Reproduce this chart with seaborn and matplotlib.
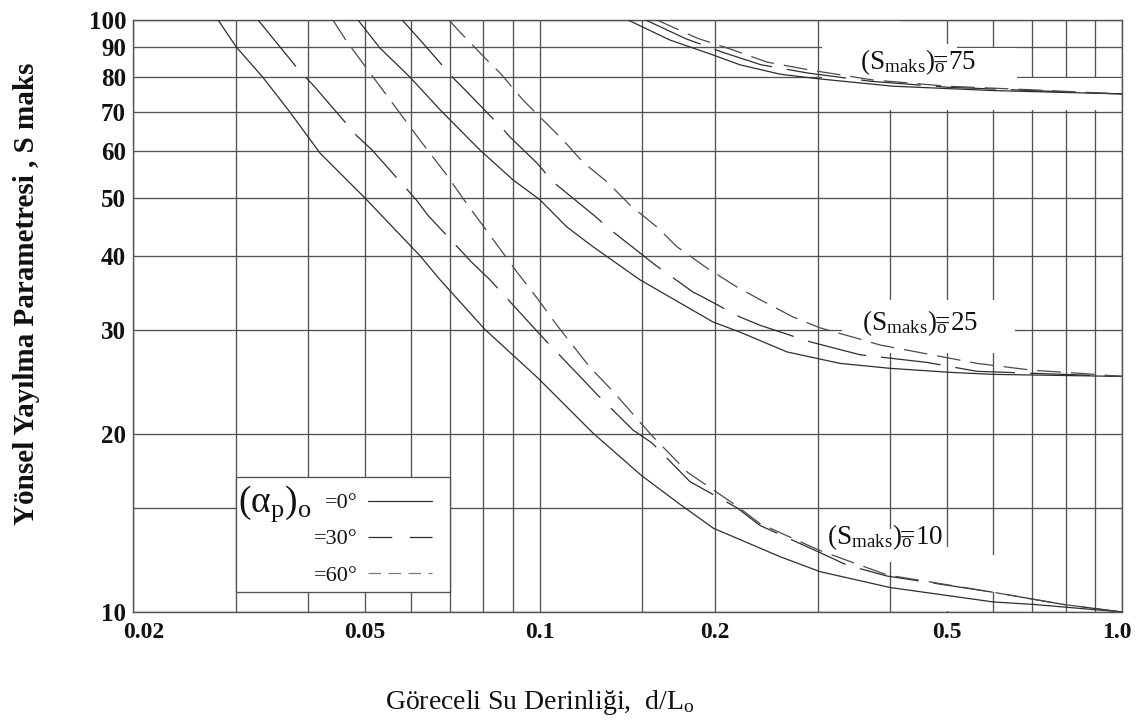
import matplotlib
matplotlib.use("Agg")
import matplotlib.pyplot as plt
import matplotlib.transforms as mtransforms
import pandas as pd
import seaborn as sns
from matplotlib.lines import Line2D
from matplotlib.patches import Rectangle
from matplotlib.ticker import FixedLocator, FixedFormatter, NullFormatter

# ---------------------------------------------------------------------------
# Data: S_max in shallow water versus relative depth d/L0
# ---------------------------------------------------------------------------
smax0_levels = [10, 25, 75]
angle_labels = ["0°", "30°", "60°"]

# (S_max)0 = 10
d_10_a0 = [0.0280, 0.0301, 0.0334, 0.0372, 0.0419, 0.0501, 0.0622, 0.0674, 0.0805, 0.0992,
           0.1234, 0.1495, 0.1741, 0.1987, 0.2586, 0.3028, 0.3995, 0.6004, 0.7034, 1.0]
s_10_a0 = [100, 90.0, 80.1, 69.9, 59.6, 50.0, 40.0, 36.4, 30.0, 24.85,
           20.05, 17.0, 15.2, 13.85, 12.4, 11.7, 11.0, 10.4, 10.3, 10.0]

d_10_a30 = [0.0328, 0.0389, 0.0408, 0.0485, 0.0515, 0.0613, 0.0642, 0.0765, 0.0821, 0.0992,
            0.1028, 0.1195, 0.1254, 0.1445, 0.1558, 0.1811, 0.2180, 0.2389, 0.3028, 0.3369,
            0.3949, 0.6004, 0.7917, 1.0]
s_10_a30 = [100, 81.4, 77.6, 63.7, 60.3, 49.7, 46.8, 38.9, 36.4, 29.7,
            28.6, 24.5, 23.3, 20.3, 19.3, 16.6, 15.0, 14.0, 12.6, 12.0,
            11.5, 10.8, 10.3, 10.0]

d_10_a60 = [0.0441, 0.0464, 0.0517, 0.0573, 0.0622, 0.0692, 0.0747, 0.0828, 0.0910, 0.0989,
            0.1070, 0.1219, 0.1335, 0.1527, 0.1570, 0.1796, 0.2180, 0.2389, 0.3028, 0.3949,
            0.6004, 0.7917, 1.0]
s_10_a60 = [100, 92.5, 80.1, 69.9, 62.7, 54.7, 49.1, 42.8, 37.7, 33.9,
            30.5, 25.9, 23.6, 20.3, 19.7, 17.2, 15.1, 14.1, 12.7, 11.55,
            10.8, 10.3, 10.0]

# (S_max)0 = 25
d_25_a0 = [0.0487, 0.0531, 0.0598, 0.0674, 0.0789, 0.0899, 0.1000, 0.1113, 0.1234, 0.1486,
           0.1983, 0.2207, 0.2658, 0.3278, 0.3995, 0.5064, 0.6004, 1.0]
s_25_a0 = [100, 89.7, 80.1, 70.5, 60.3, 53.7, 49.7, 44.7, 41.4, 36.4,
           30.9, 29.7, 27.5, 26.3, 25.8, 25.4, 25.2, 25.0]

d_25_a30 = [0.0580, 0.0627, 0.0715, 0.0738, 0.0861, 0.0889, 0.0989, 0.1053, 0.1254, 0.1304,
            0.1515, 0.1576, 0.1833, 0.1899, 0.2207, 0.2389, 0.2912, 0.3548, 0.4624, 0.5636, 1.0]
s_25_a30 = [100, 91.8, 79.2, 76.8, 65.7, 63.4, 57.3, 53.3, 46.3, 44.7,
            39.8, 38.6, 34.7, 34.1, 31.5, 30.5, 28.6, 27.2, 26.4, 25.5, 25.0]

d_25_a60 = [0.0698, 0.0729, 0.0811, 0.0854, 0.0935, 0.1000, 0.1096, 0.1186, 0.1304, 0.1428,
            0.1589, 0.1720, 0.1937, 0.2180, 0.2389, 0.2722, 0.3028, 0.3506, 0.3840, 0.5636,
            0.7034, 0.8472, 1.0]
s_25_a60 = [100, 95.4, 85.6, 81.4, 73.3, 68.6, 62.7, 57.5, 53.3, 48.7,
            44.7, 41.4, 38.1, 35.4, 33.7, 31.5, 30.2, 29.0, 28.25, 26.3,
            25.6, 25.3, 25.0]

# (S_max)0 = 75
d_75_a0 = [0.1417, 0.1673, 0.1983, 0.2207, 0.2586, 0.2992, 0.4042, 0.6004, 1.0]
s_75_a0 = [100, 92.5, 87.3, 84.0, 81.0, 79.6, 77.3, 76.0, 75.0]

d_75_a30 = [0.1520, 0.1780, 0.2060, 0.2400, 0.2900, 0.3700, 0.5000, 0.7000, 1.0]
s_75_a30 = [100, 93.0, 88.2, 84.0, 81.3, 78.8, 77.0, 76.0, 75.0]

d_75_a60 = [0.1589, 0.1862, 0.2147, 0.2456, 0.2912, 0.3734, 0.5003, 0.7034, 1.0]
s_75_a60 = [100, 93.2, 89.0, 84.9, 82.3, 79.2, 77.3, 76.2, 75.0]

# Axis ticks and grid
x_major = [0.02, 0.05, 0.1, 0.2, 0.5, 1.0]
x_major_labels = ["0.02", "0.05", "0.1", "0.2", "0.5", "1.0"]
x_minor = [0.03, 0.04, 0.06, 0.07, 0.08, 0.09, 0.15, 0.3, 0.4, 0.6, 0.7, 0.8, 0.9]
y_major = [10, 20, 30, 40, 50, 60, 70, 80, 90, 100]
y_major_labels = ["10", "20", "30", "40", "50", "60", "70", "80", "90", "100"]
y_minor = [15]

# ---------------------------------------------------------------------------
curves = {
    (10, "0°"): (d_10_a0, s_10_a0),
    (10, "30°"): (d_10_a30, s_10_a30),
    (10, "60°"): (d_10_a60, s_10_a60),
    (25, "0°"): (d_25_a0, s_25_a0),
    (25, "30°"): (d_25_a30, s_25_a30),
    (25, "60°"): (d_25_a60, s_25_a60),
    (75, "0°"): (d_75_a0, s_75_a0),
    (75, "30°"): (d_75_a30, s_75_a30),
    (75, "60°"): (d_75_a60, s_75_a60),
}
frames = []
for (s0, ang), (d, s) in curves.items():
    frames.append(pd.DataFrame({"d": d, "S": s, "smax0": s0, "angle": ang,
                                "curve": f"{s0}_{ang}"}))
df = pd.concat(frames, ignore_index=True)

INK = "#2e2e2e"
GRID = "#525252"
palette = {"0°": INK, "30°": INK, "60°": "#4a4a4a"}
dash_map = {"0°": "", "30°": (48, 12), "60°": (19, 8)}

sns.set_theme(style="white")
plt.rcParams.update({
    "font.family": ["Liberation Serif", "DejaVu Serif"],
    "mathtext.fontset": "custom",
    "mathtext.rm": "Liberation Serif",
    "mathtext.it": "Liberation Serif:italic",
    "mathtext.bf": "Liberation Serif:bold",
    "axes.edgecolor": GRID,
    "axes.linewidth": 1.0,
})

fig = plt.figure(figsize=(11.4, 7.22), dpi=100)
ax = fig.add_axes([133 / 1140, 1 - 612 / 722, 989 / 1140, 592 / 722])

sns.lineplot(data=df, x="d", y="S", hue="angle", style="angle", units="curve",
             estimator=None, palette=palette, dashes=dash_map, linewidth=0.9,
             legend=False, ax=ax, zorder=4)

ax.set_xscale("log")
ax.set_yscale("log")
ax.set_xlim(0.02, 1.0)
ax.set_ylim(10, 100)

ax.xaxis.set_major_locator(FixedLocator(x_major))
ax.xaxis.set_major_formatter(FixedFormatter(x_major_labels))
ax.xaxis.set_minor_locator(FixedLocator(x_minor))
ax.xaxis.set_minor_formatter(NullFormatter())
ax.yaxis.set_major_locator(FixedLocator(y_major))
ax.yaxis.set_major_formatter(FixedFormatter(y_major_labels))
ax.yaxis.set_minor_locator(FixedLocator(y_minor))
ax.yaxis.set_minor_formatter(NullFormatter())

ax.grid(which="both", color=GRID, linewidth=0.95)
ax.set_axisbelow(True)
ax.tick_params(which="both", length=0)
ax.tick_params(axis="x", pad=7, labelsize=17)
ax.tick_params(axis="y", pad=5, labelsize=18)
for lab in ax.get_xticklabels() + ax.get_yticklabels():
    lab.set_fontweight("bold")
    lab.set_color("#111111")

xt = ax.get_xticklabels()
xt[0].set_transform(xt[0].get_transform() + mtransforms.ScaledTranslation(0.11, 0, fig.dpi_scale_trans))
xt[-1].set_transform(xt[-1].get_transform() + mtransforms.ScaledTranslation(-0.05, 0, fig.dpi_scale_trans))

# Blank areas where the drafted grid is interrupted
blank_areas = [
    (0.305, 0.52, 70.4, 91.0),
    (0.52, 0.66, 70.4, 89.6),
    (0.66, 0.995, 70.4, 79.7),
    (0.385, 0.415, 89.0, 100.0),
    (0.33, 0.655, 27.4, 33.7),
    (0.36, 0.44, 12.15, 13.8),
    (0.48, 0.52, 10.02, 12.9),
    (0.58, 0.62, 10.8, 12.5),
]
for x0, x1, y0, y1 in blank_areas:
    ax.add_patch(Rectangle((x0, y0), x1 - x0, y1 - y0, transform=ax.transData,
                           facecolor="white", edgecolor="none", zorder=1))

# Curve family labels
label_spots = {10: (0.3114, 13.4), 25: (0.3576, 30.8), 75: (0.355, 84.9)}
for level in smax0_levels:
    lx, ly = label_spots[level]
    ax.text(lx, ly, r"$(\mathrm{S}_{\mathrm{maks}})_{\mathrm{o}}\!\!\!\!\!=\!" + f"{level}$",
            fontsize=19.5, ha="left", va="center", color="#111111", zorder=6)

# Legend box
ax.add_patch(Rectangle((0.03, 10.81), 0.04, 16.9 - 10.81, transform=ax.transData,
                       facecolor="white", edgecolor=GRID, linewidth=0.95, zorder=5))
handles = [
    Line2D([], [], color=INK, linewidth=0.9, linestyle="-"),
    Line2D([], [], color=INK, linewidth=0.9, linestyle=(0, (19, 14))),
    Line2D([], [], color="#7a7a7a", linewidth=0.9, linestyle=(0, (10, 6))),
]
leg = ax.legend(handles, ["=" + a for a in angle_labels], markerfirst=False, frameon=False,
                loc="upper right", bbox_to_anchor=(0.0653, 15.9), bbox_transform=ax.transData,
                fontsize=16, handlelength=2.9, handletextpad=0.45, labelspacing=0.70,
                borderpad=0, borderaxespad=0)
leg.set_zorder(7)
for t in leg.get_texts():
    t.set_color("#111111")
ax.text(0.0303, 14.75, r"$(\mathrm{α}_{\mathrm{p}})_{\mathrm{o}}$", fontsize=27,
        ha="left", va="baseline", color="#111111", zorder=8)

# Axis titles
ax.set_xlabel("Göreceli Su Derinliği,  d/L$_{\\mathrm{o}}$", fontsize=20, color="#111111")
ax.xaxis.set_label_coords(0.4115, -0.128)
ax.xaxis.label.set_verticalalignment("top")
ax.set_ylabel("Yönsel Yayılma Parametresi , S maks", fontsize=21, fontweight="bold",
              color="#111111")
ax.yaxis.set_label_coords(-0.094, 0.537)

fig.savefig("out.png", dpi=100)
